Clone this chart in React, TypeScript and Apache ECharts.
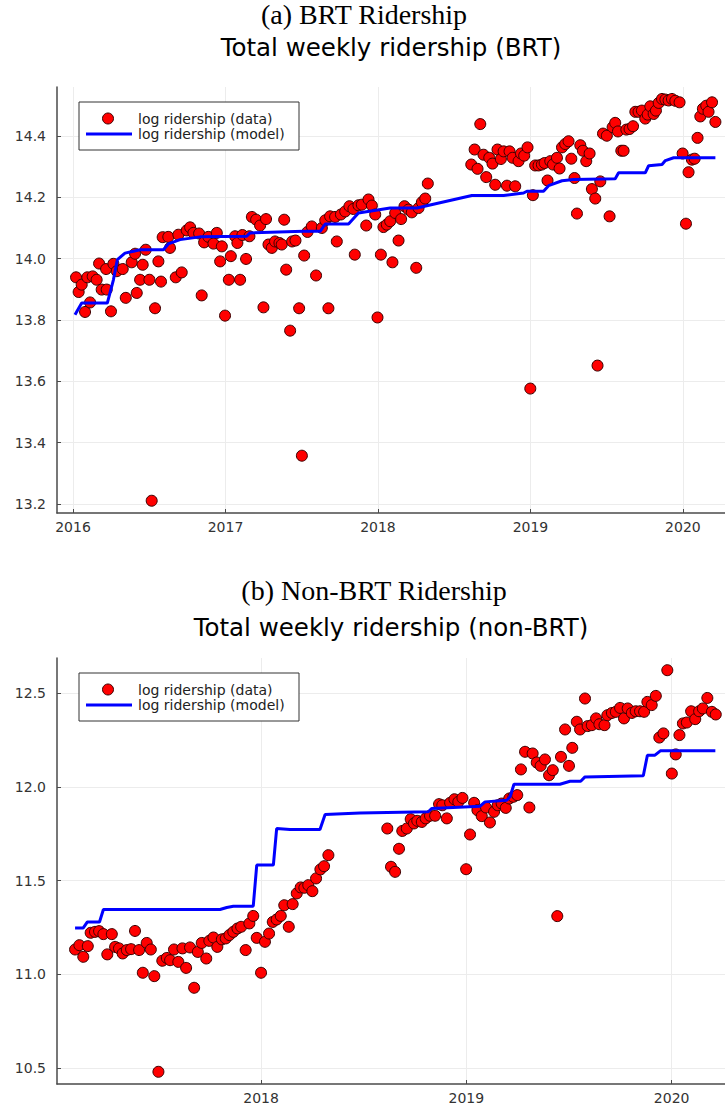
import React, { useEffect, useRef } from "react";
import * as echarts from "echarts";

// ---------- BRT (top) ----------
const brtYears = [
  2016.020, 2016.037, 2016.057, 2016.079, 2016.094, 2016.112, 2016.129, 2016.155, 2016.171, 2016.188,
  2016.217, 2016.221, 2016.249, 2016.265, 2016.287, 2016.326, 2016.346, 2016.385, 2016.407, 2016.418,
  2016.440, 2016.457, 2016.477, 2016.501, 2016.516, 2016.538, 2016.560, 2016.577, 2016.588, 2016.625,
  2016.636, 2016.674, 2016.691, 2016.713, 2016.746, 2016.768, 2016.790, 2016.827, 2016.844, 2016.860,
  2016.888, 2016.921, 2016.943, 2016.965, 2016.976, 2016.997, 2017.022, 2017.035, 2017.063, 2017.078,
  2017.096, 2017.111, 2017.135, 2017.157, 2017.173, 2017.201, 2017.227, 2017.249, 2017.266, 2017.282,
  2017.304, 2017.325, 2017.354, 2017.369, 2017.385, 2017.398, 2017.424, 2017.437, 2017.459, 2017.483,
  2017.501, 2017.516, 2017.538, 2017.566, 2017.594, 2017.632, 2017.654, 2017.675, 2017.686, 2017.719,
  2017.730, 2017.757, 2017.785, 2017.813, 2017.839, 2017.848, 2017.872, 2017.894, 2017.923, 2017.938,
  2017.960, 2017.982, 2017.997, 2018.019, 2018.036, 2018.058, 2018.080, 2018.095, 2018.113, 2018.135,
  2018.152, 2018.174, 2018.200, 2018.222, 2018.251, 2018.266, 2018.288, 2018.310, 2018.327,
  2018.612, 2018.634, 2018.653, 2018.671, 2018.692, 2018.710, 2018.730, 2018.751, 2018.769, 2018.784,
  2018.806, 2018.824, 2018.846, 2018.863, 2018.883, 2018.900, 2018.922, 2018.938, 2018.959, 2018.981,
  2018.999, 2019.016, 2019.031, 2019.053, 2019.075, 2019.093, 2019.112, 2019.130, 2019.148, 2019.174,
  2019.191, 2019.207, 2019.228, 2019.250, 2019.268, 2019.289, 2019.305, 2019.327, 2019.344, 2019.366,
  2019.388, 2019.403, 2019.425, 2019.440, 2019.458, 2019.476, 2019.501, 2019.519, 2019.539, 2019.556,
  2019.574, 2019.596, 2019.611, 2019.629, 2019.650, 2019.673, 2019.688, 2019.709, 2019.731, 2019.753,
  2019.769, 2019.786, 2019.808, 2019.823, 2019.841, 2019.863, 2019.885, 2019.906, 2019.928, 2019.950,
  2019.978, 2019.998, 2020.020, 2020.037, 2020.059, 2020.077, 2020.096, 2020.114, 2020.131, 2020.153,
  2020.168, 2020.191, 2020.213,
];
const brtData = [
  13.939, 13.891, 13.915, 13.826, 13.939, 13.857, 13.942, 13.931, 13.984, 13.899,
  13.966, 13.899, 13.828, 13.983, 13.959, 13.966, 13.872, 13.988, 14.016, 13.888,
  13.931, 13.980, 14.029, 13.931, 13.210, 13.838, 13.991, 13.925, 14.070, 14.071,
  14.035, 13.939, 14.078, 13.955, 14.092, 14.102, 14.084, 14.082, 13.880, 14.053,
  14.071, 14.049, 14.084, 13.991, 14.040, 13.814, 13.931, 14.008, 14.073, 14.051,
  13.931, 14.077, 13.999, 14.073, 14.136, 14.127, 14.108, 13.841, 14.129, 14.046,
  14.035, 14.056, 14.051, 14.046, 14.127, 13.964, 13.765, 14.056, 14.059, 13.838,
  13.357, 14.010, 14.087, 14.105, 13.945, 14.100, 14.125, 13.838, 14.138, 14.136,
  14.056, 14.144, 14.154, 14.171, 14.162, 14.013, 14.174, 14.176, 14.108, 14.193,
  14.173, 14.144, 13.808, 14.013, 14.103, 14.111, 14.122, 13.988, 14.149, 14.059,
  14.129, 14.171, 14.160, 14.151, 13.970, 14.165, 14.184, 14.196, 14.245,
  14.307, 14.356, 14.293, 14.439, 14.339, 14.266, 14.329, 14.310, 14.241, 14.356,
  14.325, 14.350, 14.238, 14.350, 14.329, 14.236, 14.318, 14.343, 14.336, 14.363,
  13.576, 14.207, 14.304, 14.304, 14.307, 14.312, 14.255, 14.318, 14.307, 14.329,
  14.294, 14.363, 14.374, 14.383, 14.326, 14.263, 14.147, 14.370, 14.352, 14.318,
  14.343, 14.227, 14.196, 13.651, 14.252, 14.408, 14.401, 14.138, 14.429, 14.443,
  14.415, 14.352, 14.352, 14.421, 14.423, 14.432, 14.479, 14.479, 14.483, 14.457,
  14.470, 14.497, 14.472, 14.483, 14.508, 14.521, 14.519, 14.516, 14.521, 14.515,
  14.510, 14.343, 14.114, 14.282, 14.323, 14.326, 14.394, 14.464, 14.489, 14.499,
  14.479, 14.510, 14.446,
];
const brtModelYears = [
  2016.013, 2016.057, 2016.225, 2016.265, 2016.291, 2016.341, 2016.396, 2016.440, 2016.593, 2016.625,
  2016.702, 2016.833, 2017.139, 2017.161, 2017.511, 2017.621, 2017.654, 2017.807, 2017.872, 2018.080,
  2018.255, 2018.616, 2018.824, 2018.955, 2018.977, 2019.086, 2019.119, 2019.207, 2019.283, 2019.556,
  2019.578, 2019.753, 2019.775, 2019.863, 2019.885, 2019.939, 2020.213,
];
const brtModel = [
  13.817, 13.855, 13.855, 13.931, 13.997, 14.018, 14.024, 14.029, 14.029, 14.048,
  14.062, 14.071, 14.073, 14.084, 14.089, 14.089, 14.113, 14.113, 14.149, 14.165,
  14.165, 14.206, 14.206, 14.214, 14.220, 14.220, 14.238, 14.254, 14.258, 14.261,
  14.280, 14.280, 14.303, 14.307, 14.320, 14.329, 14.329,
];

// ---------- Non-BRT (bottom) ----------
const nonBrtYears = [
  2017.094, 2017.115, 2017.134, 2017.156, 2017.170, 2017.191, 2017.211, 2017.232, 2017.251, 2017.273,
  2017.289, 2017.308, 2017.326, 2017.346, 2017.367, 2017.386, 2017.406, 2017.424, 2017.443, 2017.463,
  2017.480, 2017.500, 2017.519, 2017.541, 2017.557, 2017.576, 2017.597, 2017.617, 2017.635, 2017.654,
  2017.674, 2017.692, 2017.711, 2017.733, 2017.748, 2017.768, 2017.787, 2017.809, 2017.828, 2017.846,
  2017.865, 2017.885, 2017.903, 2017.925, 2017.943, 2017.962, 2017.979, 2018.000, 2018.019, 2018.039,
  2018.057, 2018.076, 2018.096, 2018.113, 2018.135, 2018.154, 2018.174, 2018.193, 2018.211, 2018.230,
  2018.250, 2018.268, 2018.289, 2018.307, 2018.328,
  2018.615, 2018.633, 2018.653, 2018.672, 2018.688, 2018.710, 2018.729, 2018.745, 2018.761, 2018.783,
  2018.802, 2018.823, 2018.848, 2018.867, 2018.883, 2018.905, 2018.921, 2018.942, 2018.961, 2018.981,
  2018.999, 2019.018, 2019.038, 2019.054, 2019.075, 2019.096, 2019.115, 2019.135, 2019.153, 2019.172,
  2019.192, 2019.209, 2019.229, 2019.248, 2019.266, 2019.286, 2019.307, 2019.323, 2019.343, 2019.362,
  2019.383, 2019.403, 2019.421, 2019.443, 2019.461, 2019.481, 2019.500, 2019.516, 2019.538, 2019.554,
  2019.578, 2019.591, 2019.611, 2019.632, 2019.648, 2019.673, 2019.687, 2019.709, 2019.728, 2019.749,
  2019.768, 2019.786, 2019.806, 2019.825, 2019.846, 2019.866, 2019.882, 2019.903, 2019.923, 2019.940,
  2019.960, 2019.979, 2020.001, 2020.020, 2020.038, 2020.055, 2020.074, 2020.095, 2020.115, 2020.134,
  2020.152, 2020.174, 2020.196, 2020.215,
];
const nonBrtData = [
  11.133, 11.156, 11.094, 11.151, 11.222, 11.227, 11.231, 11.215, 11.107, 11.215,
  11.147, 11.139, 11.112, 11.130, 11.135, 11.232, 11.130, 11.009, 11.168, 11.133,
  10.991, 10.481, 11.073, 11.088, 11.076, 11.133, 11.067, 11.139, 11.035, 11.144,
  10.929, 11.120, 11.168, 11.085, 11.179, 11.197, 11.147, 11.187, 11.192, 11.210,
  11.227, 11.245, 11.254, 11.130, 11.272, 11.312, 11.195, 11.009, 11.174, 11.218,
  11.280, 11.293, 11.312, 11.369, 11.254, 11.375, 11.432, 11.464, 11.462, 11.476,
  11.444, 11.512, 11.560, 11.577, 11.636,
  11.778, 11.574, 11.547, 11.670, 11.765, 11.778, 11.828, 11.805, 11.819, 11.813,
  11.832, 11.846, 11.846, 11.908, 11.902, 11.832, 11.915, 11.934, 11.920, 11.941,
  11.561, 11.746, 11.915, 11.876, 11.844, 11.890, 11.810, 11.867, 11.902, 11.911,
  11.888, 11.938, 11.947, 11.956, 12.093, 12.187, 11.890, 12.178, 12.130, 12.112,
  12.146, 12.062, 12.089, 11.311, 12.160, 12.306, 12.112, 12.208, 12.347, 12.306,
  12.471, 12.324, 12.329, 12.365, 12.334, 12.329, 12.382, 12.394, 12.400, 12.421,
  12.365, 12.418, 12.394, 12.403, 12.403, 12.400, 12.453, 12.436, 12.485, 12.263,
  12.285, 12.622, 12.071, 12.173, 12.276, 12.338, 12.343, 12.403, 12.361, 12.403,
  12.418, 12.474, 12.400, 12.386,
];
const nonBrtModelYears = [
  2017.094, 2017.134, 2017.154, 2017.213, 2017.232, 2017.800, 2017.833, 2017.865, 2017.962, 2017.979,
  2018.060, 2018.076, 2018.141, 2018.287, 2018.312, 2018.482, 2018.815, 2018.831, 2019.067, 2019.091,
  2019.197, 2019.213, 2019.232, 2019.456, 2019.505, 2019.557, 2019.578, 2019.862, 2019.882, 2019.919,
  2019.945, 2020.213,
];
const nonBrtModel = [
  11.248, 11.248, 11.280, 11.280, 11.346, 11.346, 11.357, 11.364, 11.364, 11.583,
  11.583, 11.778, 11.773, 11.773, 11.853, 11.861, 11.867, 11.885, 11.897, 11.920,
  11.929, 11.947, 12.014, 12.014, 12.030, 12.030, 12.053, 12.059, 12.169, 12.169,
  12.192, 12.192,
];

const captions = ["(a) BRT Ridership", "(b) Non-BRT Ridership"];
const plotTitles = ["Total weekly ridership (BRT)", "Total weekly ridership (non-BRT)"];
const legendLabels = ["log ridership (data)", "log ridership (model)"];

const SANS = "DejaVu Sans";
const AXIS_COLOR = "#4a4a4a";
const GRID_COLOR = "#ececec";

function zip(xs: number[], ys: number[]) {
  return xs.map((x, i) => [x, ys[i]]);
}

function makeXAxis(gridIndex: number, min: number, max: number) {
  return {
    type: "value",
    gridIndex,
    min,
    max,
    minInterval: 1,
    maxInterval: 1,
    axisLine: { show: true, lineStyle: { color: AXIS_COLOR, width: 1.5 } },
    axisTick: { show: true, inside: true, length: 4, lineStyle: { color: AXIS_COLOR, width: 1 } },
    axisLabel: {
      showMinLabel: false,
      showMaxLabel: false,
      margin: 7,
      fontSize: 14,
      fontFamily: SANS,
      color: "#333",
      formatter: (v: number) => v.toFixed(0),
    },
    splitLine: { show: true, showMinLine: false, showMaxLine: false, lineStyle: { color: GRID_COLOR, width: 1 } },
  };
}

function makeYAxis(gridIndex: number, min: number, max: number, step: number) {
  return {
    type: "value",
    gridIndex,
    min,
    max,
    minInterval: step,
    maxInterval: step,
    axisLine: { show: true, lineStyle: { color: AXIS_COLOR, width: 1.5 } },
    axisTick: { show: true, inside: true, length: 4, lineStyle: { color: AXIS_COLOR, width: 1 } },
    axisLabel: {
      showMinLabel: false,
      showMaxLabel: false,
      margin: 11,
      fontSize: 14,
      fontFamily: SANS,
      color: "#333",
      formatter: (v: number) => v.toFixed(1),
    },
    splitLine: { show: true, showMinLine: false, showMaxLine: false, lineStyle: { color: GRID_COLOR, width: 1 } },
  };
}

function legendGraphic(top: number) {
  return [
    {
      type: "rect",
      shape: { x: 79, y: top, width: 220, height: 48 },
      style: { fill: "#fff", stroke: "#333", lineWidth: 1 },
      z: 100,
    },
    {
      type: "circle",
      shape: { cx: 108, cy: top + 16.5, r: 5.5 },
      style: { fill: "#ff0000", stroke: "#3a0000", lineWidth: 1 },
      z: 101,
    },
    {
      type: "line",
      shape: { x1: 86, y1: top + 32, x2: 132, y2: top + 32 },
      style: { stroke: "#0000ff", lineWidth: 3 },
      z: 101,
    },
    {
      type: "text",
      x: 138,
      y: top + 16.5,
      style: { text: legendLabels[0], font: `14px "${SANS}"`, fill: "#222", textVerticalAlign: "middle" },
      z: 101,
    },
    {
      type: "text",
      x: 138,
      y: top + 32,
      style: { text: legendLabels[1], font: `14px "${SANS}"`, fill: "#222", textVerticalAlign: "middle" },
      z: 101,
    },
  ];
}

function titleGraphic(text: string, x: number, y: number, font: string) {
  return {
    type: "text",
    x,
    y,
    style: { text, font, fill: "#000", textAlign: "center", textVerticalAlign: "middle" },
  };
}

export default function App() {
  const ref = useRef<HTMLDivElement>(null);

  useEffect(() => {
    if (!ref.current) return;
    const chart = echarts.init(ref.current, null, { renderer: "svg" });

    const scatterStyle = {
      symbol: "circle",
      symbolSize: 11,
      itemStyle: { color: "#ff0000", borderColor: "#3a0000", borderWidth: 1, opacity: 1 },
    };
    const lineStyle = {
      showSymbol: false,
      symbol: "none",
      lineStyle: { color: "#0000ff", width: 3 },
      itemStyle: { color: "#0000ff" },
    };

    chart.setOption({
      animation: false,
      backgroundColor: "#ffffff",
      grid: [
        { left: 57, top: 87, width: 668, height: 426, containLabel: false },
        { left: 57, top: 658, width: 668, height: 426, containLabel: false },
      ],
      xAxis: [makeXAxis(0, 2015.895, 2020.276), makeXAxis(1, 2017.006, 2020.26)],
      yAxis: [makeYAxis(0, 13.17, 14.56, 0.2), makeYAxis(1, 10.416, 12.687, 0.5)],
      series: [
        { name: legendLabels[0], type: "scatter", xAxisIndex: 0, yAxisIndex: 0, data: zip(brtYears, brtData), ...scatterStyle, z: 2 },
        { name: legendLabels[1], type: "line", xAxisIndex: 0, yAxisIndex: 0, data: zip(brtModelYears, brtModel), ...lineStyle, z: 3 },
        { name: legendLabels[0], type: "scatter", xAxisIndex: 1, yAxisIndex: 1, data: zip(nonBrtYears, nonBrtData), ...scatterStyle, z: 2 },
        { name: legendLabels[1], type: "line", xAxisIndex: 1, yAxisIndex: 1, data: zip(nonBrtModelYears, nonBrtModel), ...lineStyle, z: 3 },
      ],
      graphic: [
        titleGraphic(captions[0], 364, 14, '28px "Liberation Serif"'),
        titleGraphic(plotTitles[0], 391, 47, `24.5px "${SANS}"`),
        titleGraphic(captions[1], 374, 590, '28px "Liberation Serif"'),
        titleGraphic(plotTitles[1], 391, 627, `24.5px "${SANS}"`),
        ...legendGraphic(102),
        ...legendGraphic(673),
      ],
    });

    return () => chart.dispose();
  }, []);

  return (
    <div
      ref={ref}
      style={{ position: "fixed", left: 0, top: 0, width: 725, height: 1111, background: "#fff" }}
    />
  );
}
